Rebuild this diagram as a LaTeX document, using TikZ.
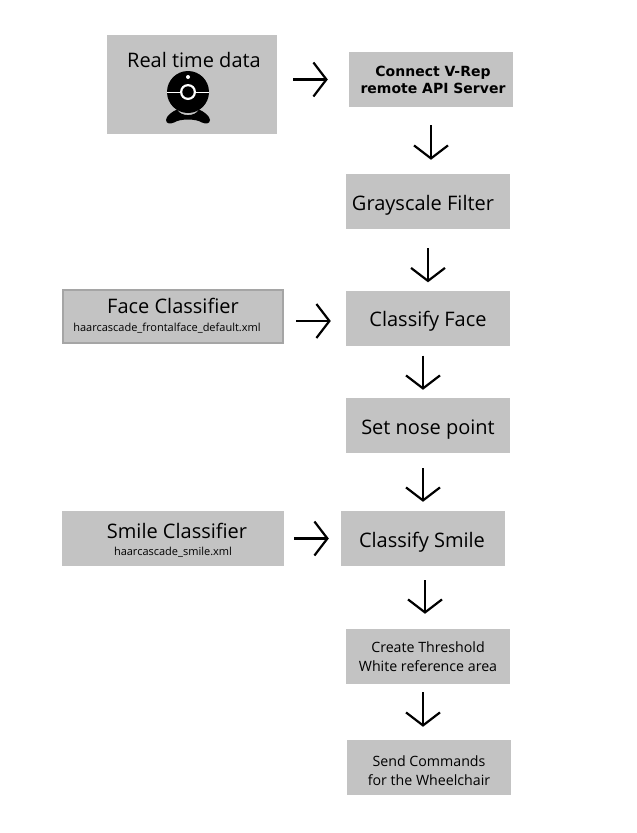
\documentclass[tikz,border=0pt]{standalone}
\usepackage{xcolor}
\usepackage{fontspec}
\setmainfont{Open Sans}
\newfontfamily\boldfont{DejaVu Sans}
\definecolor{boxGray}{RGB}{195, 195, 195}
\definecolor{edgeGray}{RGB}{165, 165, 165}
\usetikzlibrary{arrows.meta, positioning}
\tikzset{
  flowbox/.style={fill=boxGray, minimum width=164pt, minimum height=55pt, inner sep=0pt, align=center, text depth=0pt, text height=17pt, font=\fontsize{20}{24}\selectfont},
  smallbox/.style={flowbox, text height=29pt, font=\fontsize{14.2}{19}\selectfont},
  boldbox/.style={flowbox, text height=28pt, font=\boldfont\bfseries\fontsize{14}{17.5}\selectfont},
  leftbox/.style={flowbox, minimum width=222pt},
  flowarrow/.style={black, line width=2.2pt, -{Straight Barb[length=13pt, width=34pt, line width=2.2pt]}}
}

\begin{document}
\begin{tikzpicture}[x=1pt, y=1pt]
        \useasboundingbox[fill=white] (0,0) rectangle (637,-833);
        % left column
        \node[flowbox, minimum width=170pt, minimum height=99pt] (real) at (192,-84.5) {};
        \node[leftbox, draw=edgeGray, line width=1.6pt, minimum width=220.4pt, minimum height=53.4pt] (faceclf) at (173,-316.5) {};
        \node[leftbox] (smileclf) at (173,-538.5) {};
        \node[font=\fontsize{20}{24}\selectfont] (realtxt) at (194,-60) {Real time data};
        \node[font=\fontsize{20}{24}\selectfont] (facetxt) at (173,-306) {Face Classifier};
        \node[font=\fontsize{11}{13}\selectfont] (facesub) at (167,-328) {haarcascade\_frontalface\_default.xml};
        \node[font=\fontsize{20}{24}\selectfont] (smiletxt) at (177,-531) {Smile Classifier};
        \node[font=\fontsize{11}{13}\selectfont] (smilesub) at (173,-552) {haarcascade\_smile.xml};
        % webcam
        \fill[black] (188,-92) circle (21);
        \fill[white] (188,-92) circle (8);
        \fill[black] (188,-92) circle (5.7);
        \fill[white] (167,-92.5) rectangle (180,-91.5);
        \fill[white] (196,-92.5) rectangle (209,-91.5);
        \fill[white] (188,-77) circle (2);
        \fill[black] (177,-109.5) .. controls (181,-117) and (195,-117) .. (199,-109.5)
            .. controls (203,-111) and (210,-116) .. (210,-120)
            .. controls (210,-124) and (205,-124) .. (202,-122.5)
            .. controls (196,-118.5) and (180,-118.5) .. (174,-122.5)
            .. controls (171,-124) and (166,-124) .. (166,-120)
            .. controls (166,-116) and (173,-111) .. (177,-109.5);
        % right column
        \node[boldbox] (connect) at (431,-79.5) {\hspace*{4pt}Connect V-Rep\\\hspace*{4pt}remote API Server};
        \node[flowbox] (gray) at (428,-201.5) {Grayscale Filter\hspace*{10pt}};
        \node[flowbox] (face) at (428,-318) {Classify Face};
        \node[flowbox] (nose) at (428,-425.5) {Set nose point};
        \node[flowbox] (smile) at (423,-538.5) {Classify Smile\hspace*{2pt}};
        \node[smallbox] (thresh) at (428,-656.5) {Create Threshold\\White reference area};
        \node[smallbox, text height=35pt] (send) at (429,-767.5) {Send Commands\\for the Wheelchair};
        % arrows
        \draw[flowarrow, shorten <=16pt, shorten >=21pt] (real.east |- connect.west) -- (connect.west);
        \draw[flowarrow, shorten <=18pt, shorten >=14pt] (connect.south) -- (connect.south |- gray.north);
        \draw[flowarrow, shorten <=19pt, shorten >=8pt] (gray.south) -- (face.north);
        \draw[flowarrow, shorten <=12pt, shorten >=15pt] (faceclf.east |- 0,-321) -- (face.west |- 0,-321);
        \draw[flowarrow, shorten <=10pt, shorten >=8pt] ([xshift=-5pt]face.south) -- ([xshift=-5pt]nose.north);
        \draw[flowarrow, shorten <=15pt, shorten >=9pt] (nose.south -| smile.south) -- (smile.north);
        \draw[flowarrow, shorten <=10pt, shorten >=12pt] (smileclf.east) -- (smile.west);
        \draw[flowarrow, shorten <=14pt, shorten >=15pt] (smile.south -| 425,0) -- (thresh.north -| 425,0);
        \draw[flowarrow, shorten <=8pt, shorten >=13pt] ([xshift=-5pt]thresh.south) -- ([xshift=-5pt]thresh.south |- send.north);
\end{tikzpicture}
\end{document}
